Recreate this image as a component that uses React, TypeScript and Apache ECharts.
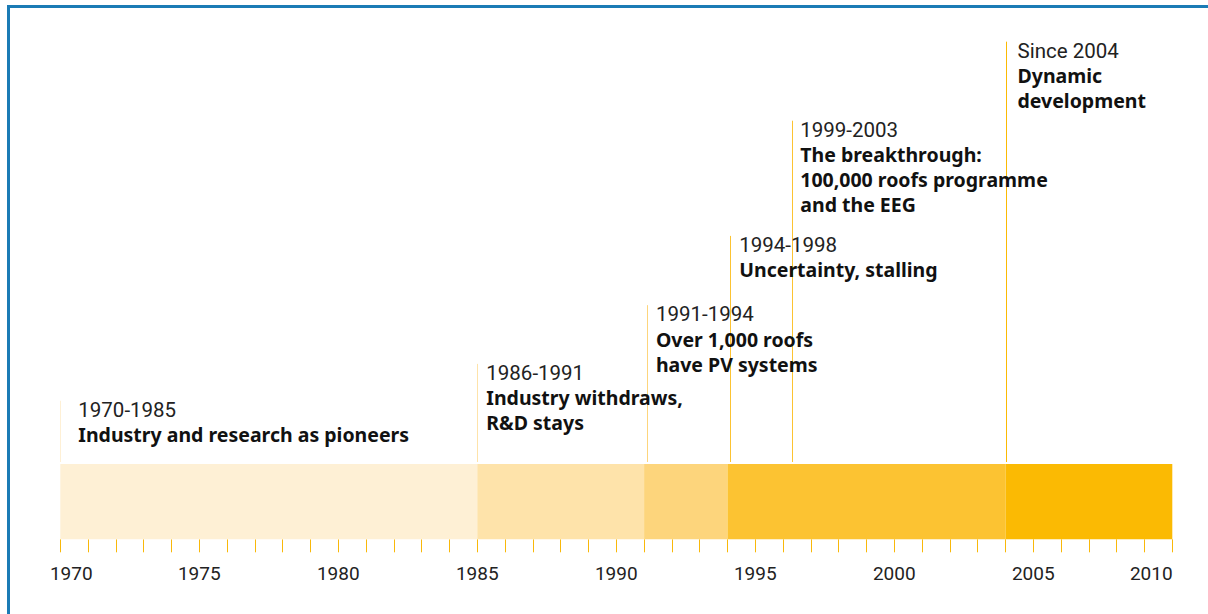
import React, { useEffect, useRef } from "react";
import * as echarts from "echarts";

// Period bands
const bandStarts = [1970, 1985, 1991, 1994, 2004];
const bandEnds = [1985, 1991, 1994, 2004, 2010];
const bandColors = ["#FEF0D5", "#FEE3AA", "#FDD57C", "#FCC332", "#FBBA03"];

// Annotations (marker year, marker height in band units, period label, description)
const markerYears = [1970, 1985, 1991.1, 1994.1, 1996.33, 2004];
const markerHeights = [1.84, 2.33, 3.11, 4.03, 5.56, 6.61];
const periodLabels = ["1970-1985", "1986-1991", "1991-1994", "1994-1998", "1999-2003", "Since 2004"];
const descriptions = [
  "Industry and research as pioneers",
  "Industry withdraws,\nR&D stays",
  "Over 1,000 roofs\nhave PV systems",
  "Uncertainty, stalling",
  "The breakthrough:\n100,000 roofs programme\nand the EEG",
  "Dynamic\ndevelopment",
];
const markerColors = ["#FEF0D5", "#FEE3AA", "#FDD57C", "#FCC332", "#FCC332", "#FBBA03"];
const labelOffsets = [18, 9, 9, 9, 8, 12];

// Axis
const xMin = 1970;
const xMax = 2010;

export default function App() {
  const ref = useRef<HTMLDivElement>(null);

  useEffect(() => {
    if (!ref.current) return;
    const chart = echarts.init(ref.current, null, { renderer: "svg" });

    const bandData = bandStarts.map((s, i) => [s, bandEnds[i], i]);
    const markerData = markerYears.map((y, i) => [y, markerHeights[i], i]);

    const tickFont = { fontFamily: "Roboto", fontWeight: 400, fontSize: 19, color: "#222222" };

    const option: any = {
      animation: false,
      backgroundColor: "#ffffff",
      grid: { left: 60.3, right: 35.7, top: 12.3, bottom: 74.7 },
      xAxis: {
        type: "value",
        min: xMin,
        max: xMax,
        interval: 1,
        offset: 3,
        axisLine: { show: false },
        splitLine: { show: false },
        axisTick: { show: true, length: 13, lineStyle: { color: "#F9B80A", width: 1 } },
        axisLabel: {
          showMinLabel: true,
          showMaxLabel: true,
          formatter: (v: number) => {
            if (v % 5 !== 0) return "";
            if (v === xMin) return "{first|" + v + "}";
            if (v === xMax) return "{last|" + v + "}";
            return "{mid|" + v + "}";
          },
          ...tickFont,
          margin: 22,
          rich: {
            first: { ...tickFont, padding: [0, 0, 0, 22] },
            last: { ...tickFont, padding: [0, 42, 0, 0] },
            mid: { ...tickFont },
          },
        },
      },
      yAxis: { type: "value", min: 0, max: 7, show: false },
      graphic: [
        { type: "rect", left: 7, top: 5, shape: { width: 3, height: 609 }, style: { fill: "#1B7BB5" } },
        { type: "rect", left: 7, top: 5, shape: { width: 1201, height: 3 }, style: { fill: "#1B7BB5" } },
      ],
      series: [
        {
          type: "custom",
          data: bandData,
          renderItem: (params: any, api: any) => {
            const s = api.value(0);
            const e = api.value(1);
            const idx = api.value(2);
            const p0 = api.coord([s, 1]);
            const p1 = api.coord([e, 0]);
            return {
              type: "rect",
              shape: { x: p0[0], y: p0[1], width: p1[0] - p0[0], height: p1[1] - p0[1] },
              style: { fill: bandColors[idx] },
            };
          },
          z: 1,
        },
        {
          type: "custom",
          data: markerData,
          renderItem: (params: any, api: any) => {
            const yr = api.value(0);
            const h = api.value(1);
            const idx = api.value(2);
            const top = api.coord([yr, h]);
            const bot = api.coord([yr, 1]);
            const x = Math.round(top[0]) + 0.5;
            return {
              type: "group",
              children: [
                {
                  type: "line",
                  shape: { x1: x, y1: top[1], x2: x, y2: bot[1] - 2 },
                  style: { stroke: markerColors[idx], lineWidth: 1 },
                  z2: 1,
                },
                {
                  type: "text",
                  x: top[0] + labelOffsets[idx],
                  y: top[1] - 3.5,
                  style: {
                    text: "{a|" + periodLabels[idx] + "}\n" +
                      descriptions[idx].split("\n").map((t) => "{b|" + t + "}").join("\n"),
                    verticalAlign: "top",
                    align: "left",
                    rich: {
                      a: { fontFamily: "Roboto", fontWeight: 400, fontSize: 20.5, lineHeight: 25, fill: "#222222" },
                      b: { fontFamily: "Noto Sans", fontWeight: "bold", fontSize: 19.5, lineHeight: 25, fill: "#111111" },
                    },
                  },
                  z2: 2,
                },
              ],
            };
          },
          z: 2,
        },
      ],
    };

    chart.setOption(option);
    return () => chart.dispose();
  }, []);

  return (
    <div
      ref={ref}
      style={{ position: "fixed", left: 0, top: 0, width: 1208, height: 614, background: "#fff" }}
    />
  );
}
